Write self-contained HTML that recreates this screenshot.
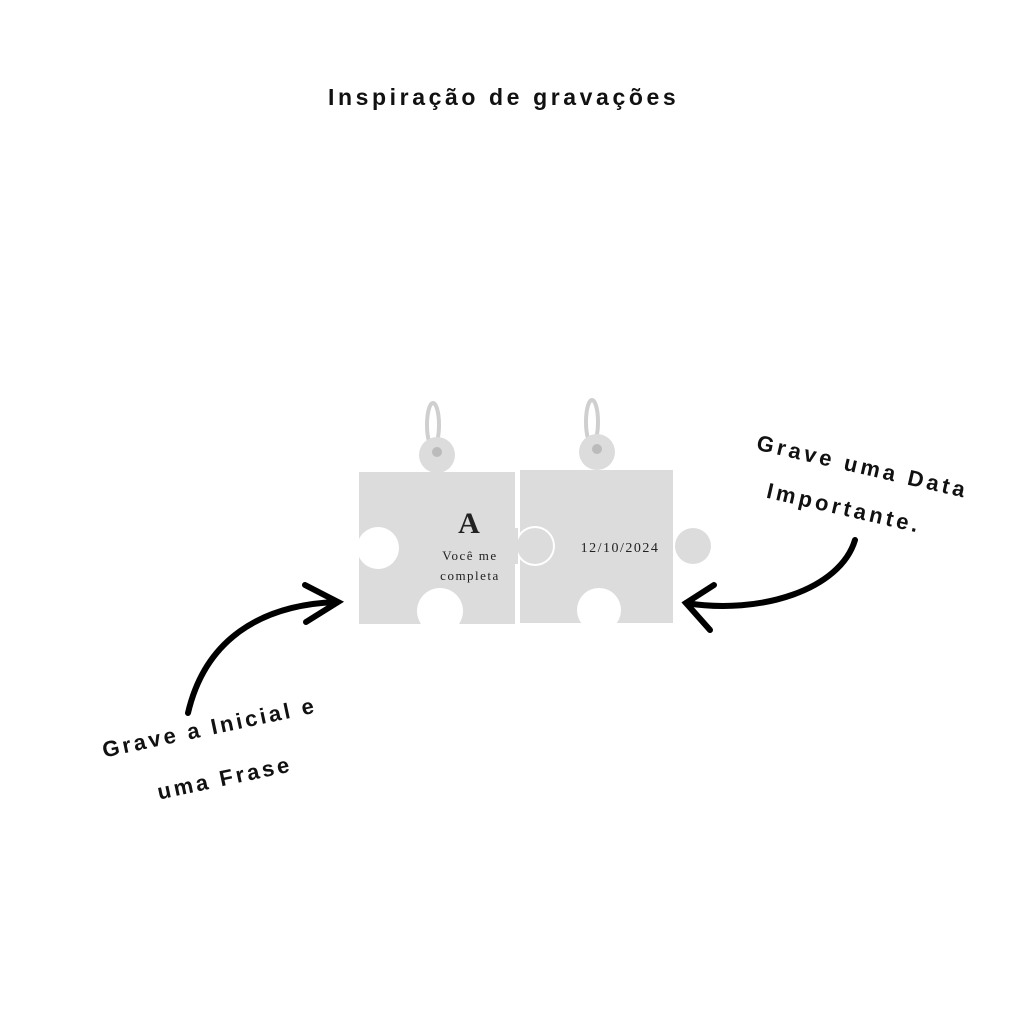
<!DOCTYPE html>
<html><head><style>
body{margin:0;width:1024px;height:1024px;background:#fff;position:relative;overflow:hidden;font-family:"Liberation Sans",sans-serif}
.t{position:absolute;font-weight:bold;color:#111;white-space:nowrap;letter-spacing:3px}
</style></head><body>
<div class="t" style="left:328px;top:84px;font-size:23px;letter-spacing:3.6px">Inspiração de gravações</div>
<svg width="1024" height="1024" style="position:absolute;left:0;top:0">
<g fill="none" stroke="#cfcfcf" stroke-width="4">
<ellipse cx="433" cy="425" rx="6" ry="22"/><ellipse cx="592" cy="422" rx="6" ry="22"/>
</g>
<rect x="359" y="472" width="156" height="152" fill="#dcdcdc"/>
<circle cx="437" cy="455" r="18" fill="#dcdcdc"/>
<circle cx="378" cy="548" r="21" fill="#fff"/>
<circle cx="440" cy="611" r="23" fill="#fff"/>
<rect x="520" y="470" width="153" height="153" fill="#dcdcdc"/>
<circle cx="597" cy="452" r="18" fill="#dcdcdc"/>
<circle cx="693" cy="546" r="18" fill="#dcdcdc"/>
<circle cx="535" cy="546" r="20" fill="#fff"/>
<circle cx="535" cy="546" r="18" fill="#dcdcdc"/>
<rect x="510" y="528" width="8" height="36" fill="#dcdcdc"/>
<circle cx="599" cy="610" r="22" fill="#fff"/>
<rect x="570" y="623" width="60" height="10" fill="#fff"/>
<rect x="410" y="624" width="60" height="10" fill="#fff"/>
<circle cx="437" cy="452" r="5" fill="#bbb"/><circle cx="597" cy="449" r="5" fill="#bbb"/>
<g font-family="Liberation Serif,serif" fill="#222" text-anchor="middle">
<text x="469" y="533" font-size="30" font-weight="bold">A</text>
<text x="470" y="560" font-size="13" letter-spacing="1.5">Você me</text>
<text x="470" y="580" font-size="13" letter-spacing="1.5">completa</text>
<text x="620" y="552" font-size="14" letter-spacing="1.5">12/10/2024</text>
</g>
<g fill="none" stroke="#000" stroke-width="6" stroke-linecap="round">
<path d="M188 713 C205 640 260 605 336 602"/>
<path d="M305 585 L338 602 L306 622"/>
<path d="M855 540 C840 590 760 615 686 603"/>
<path d="M714 585 L686 603 L710 630"/>
</g>
</svg>
<div class="t" style="left:100px;top:738px;font-size:22px;transform:rotate(-12deg);transform-origin:left top">Grave a Inicial e</div>
<div class="t" style="left:155px;top:780px;font-size:22px;transform:rotate(-12deg);transform-origin:left top">uma Frase</div>
<div class="t" style="left:760px;top:430px;font-size:22px;letter-spacing:3.5px;transform:rotate(13deg);transform-origin:left top">Grave uma Data</div>
<div class="t" style="left:770px;top:478px;font-size:22px;letter-spacing:3.5px;transform:rotate(13deg);transform-origin:left top">Importante.</div>
</body></html>
